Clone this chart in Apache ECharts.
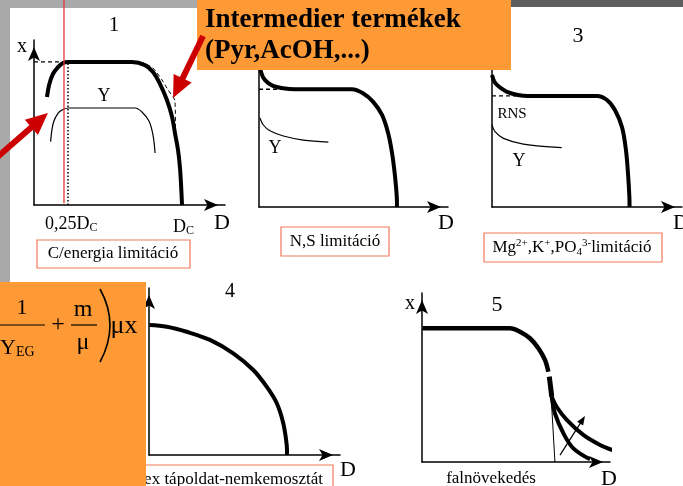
<!DOCTYPE html>
<html><head><meta charset="utf-8">
<script src="https://cdn.jsdelivr.net/npm/echarts@6/dist/echarts.min.js"></script>
<style>html,body{margin:0;padding:0;background:#fff}#c{width:683px;height:486px}</style>
</head><body><div id="c"></div>
<script>
// All values: [D, x] in percent of each panel's axis length
// Panel 1 – C/energia limitáció
const p1Biomass = [[6.8,65.5],[7.9,72.7],[9.9,79.4],[12.6,83.6],[15.2,86.1],[17.8,86.7],[30,86.7],[40,86.7],[51.3,86.7],[58.1,84.8],[62.3,80.6],[66.0,73.3],[69.6,63.6],[72.3,53.3],[73.8,43.6],[75.4,33.3],[76.4,23.0],[77.0,12.1],[77.5,0]];
const p1Yield = [[8.7,38.4],[10.1,49.7],[12.7,55.8],[15.2,57.9],[17.8,58.8],[30,58.8],[45,58.8],[52.9,58.8],[56.5,56.4],[60.2,50.9],[62.3,42.4],[63.4,31.5]];
const p1XmaxRef = [[0,86.8],[17.8,86.8]];
const p1Intermed = [[51.8,86.9],[57.1,86.1],[62.3,83.0],[67.0,75.8],[70.2,69.7],[72.8,65.5],[73.8,63.0],[74.1,45.5]];
const p1Dotted = [[17.8,0],[17.8,86.7]];
const p1RedLine = [[15.7,1],[15.7,124.2]];
// arrows: [fromD, fromX, tipD, tipX]
const p1Arrows = [[-20,28.2,7.3,55.8],[88.5,102.4,72.8,64.8]];
// Panel 2 – N,S limitáció
const p2Biomass = [[0.3,88.0],[1.1,80.7],[3.2,76.0],[7.4,72.5],[12.7,71.1],[19.0,70.5],[30,70.5],[40,70.5],[49.2,70.5],[55.0,68.1],[60.3,63.1],[65.1,55.1],[68.3,44.3],[70.4,32.3],[72.0,18.0],[72.9,6],[73.0,0]];
const p2Ref = [[0,70.5],[19,70.5]];
const p2Yield = [[0.5,53.3],[2.3,49.1],[5.8,45.7],[12.9,42.5],[23.4,40.1],[36.7,38.9]];
// Panel 3 – Mg, K, PO4 limitáció
const p3Biomass = [[0,79.0],[1.1,75.4],[2.6,73.1],[5.3,70.7],[7.9,69.0],[13.7,67.1],[18.9,66.5],[30,66.5],[45,66.5],[55.3,66.5],[60.5,64.1],[64.7,58.1],[68.4,47.9],[70.5,34.1],[71.7,18.0],[72.3,6],[72.4,0]];
const p3Ref = [[0,66.5],[18.9,66.5]];
const p3Yield = [[0,49.1],[1.6,45.1],[6.0,41.1],[16.5,37.7],[36.7,35.5]];
// Panel 4 – komplex tápoldat
const p4Biomass = [[0.2,77.8],[9.3,76.8],[19.7,73.8],[31.9,68.9],[44.1,60.9],[54.6,50.9],[61.6,40.9],[66.9,31.0],[70.3,19.0],[72.1,6],[72.3,0]];
// Panel 5 – falnövekedés
const p5Main = [[0.2,79.1],[25,79.1],[46.8,79.1],[52.1,77.1],[57.4,73.2],[61.9,67.3],[65.4,60.4],[67.2,53.4]];
const p5Mid = [[67.7,50.5],[68.4,44.4],[69.0,38.6]];
const p5Low = [[69.0,38.6],[70.7,28.8],[75.2,17.0],[80.5,8.1],[89.4,1.6]];
const p5High = [[69.0,38.6],[71.6,32.7],[77.0,24.9],[85.8,16.0],[94.7,10.1],[103.6,6.1]];
const p5Thin = [[68.5,42.6],[70.7,0]];
const p5Arrow = [[73.4,4.1,86.7,27.2]];

const SERIF = 'Liberation Serif';
const grids = [
  {left:34, top:40, width:191, height:165},
  {left:259, top:40, width:189, height:167},
  {left:492, top:40, width:190, height:167},
  {left:149, top:288, width:191, height:167},
  {left:422, top:293, width:188, height:169}
];
function ax(i){
  return {gridIndex:i, type:'value', min:0, max:100,
    axisLine:{show:true, onZero:false, symbol:['none','arrow'], symbolSize:[9,14], symbolOffset:[0,-7], lineStyle:{color:'#000', width:1.5}},
    axisTick:{show:false}, axisLabel:{show:false}, splitLine:{show:false}};
}
function ln(g, data, width, opts){
  opts = opts || {};
  return {type:'line', xAxisIndex:g, yAxisIndex:g, data:data, symbol:'none', showSymbol:false,
    smooth: opts.smooth === undefined ? 0.35 : opts.smooth, clip:false, silent:true, z: opts.z || 5,
    lineStyle:{width:width, color: opts.color || '#000', type: opts.type || 'solid', cap:'butt'}};
}
function arrows(g, list, width, headL, headW, color, z){
  return {type:'custom', coordinateSystem:'cartesian2d', xAxisIndex:g, yAxisIndex:g, clip:false, silent:true, z:z,
    data:list, encode:{x:[0,2], y:[1,3]},
    renderItem:function(params, api){
      const a = api.coord([api.value(0), api.value(1)]);
      const b = api.coord([api.value(2), api.value(3)]);
      const dx = b[0]-a[0], dy = b[1]-a[1], len = Math.sqrt(dx*dx+dy*dy);
      const ux = dx/len, uy = dy/len, nx = -uy, ny = ux;
      const bx = b[0]-ux*headL, by = b[1]-uy*headL;
      return {type:'group', children:[
        {type:'line', shape:{x1:a[0], y1:a[1], x2:bx+ux*2, y2:by+uy*2}, style:{stroke:color, lineWidth:width}},
        {type:'polygon', shape:{points:[[b[0],b[1]],[bx+nx*headW, by+ny*headW],[bx-nx*headW, by-ny*headW]]}, style:{fill:color}}
      ]};
    }};
}
function T(text, x, y, size, o){
  o = o || {};
  return {type:'text', x:x, y:y, z:o.z || 20,
    style:{text:text, fill:'#000', fontSize:size, fontFamily:SERIF, fontWeight:o.bold ? 'bold':'normal',
      align:o.align || 'center', verticalAlign:'middle', lineHeight:o.lh, rich:o.rich}};
}
function box(x, y, w, h){
  return {type:'rect', z:15, shape:{x:x, y:y, width:w, height:h}, style:{fill:'#fff', stroke:'#f2785a', lineWidth:1.2}};
}
const subRich = (fs) => ({s:{fontSize:fs, fontFamily:SERIF, lineHeight:10, verticalAlign:'bottom', fill:'#000'}});

const graphic = [
  {type:'rect', z:-10, shape:{x:0,y:0,width:200,height:8}, style:{fill:'#a9a9a9'}},
  {type:'rect', z:-10, shape:{x:0,y:0,width:10,height:283}, style:{fill:'#a9a9a9'}},
  {type:'rect', z:-10, shape:{x:505,y:0,width:178,height:7}, style:{fill:'#5f5f5f'}},
  // panel 1 texts
  T('1',114,25.3,21), T('x',22,46.6,20), T('D',222,223,22), T('Y',104,96,18),
  T('0,25D{s|C}',45,224,18,{align:'left', lh:20, rich:subRich(12)}),
  T('D{s|C}',173,227,18,{align:'left', lh:20, rich:subRich(12)}),
  box(37,240,153,28), T('C/energia limitáció',113,254,17),
  // panel 2
  T('Y',275,148,18), T('D',446,223,22),
  box(281,227,108,29), T('N,S limitáció',335,242,17),
  // panel 3
  T('3',578,36,22), T('RNS',512,114,15), T('Y',519,161,18), T('D',681,223,22),
  box(484,233,178,29),
  T('Mg{p|2+},K{p|+},PO{s|4}{p|3-}limitáció',572,248,17,{lh:20, rich:{
     p:{fontSize:11, fontFamily:SERIF, lineHeight:10, verticalAlign:'top', fill:'#000'},
     s:{fontSize:11, fontFamily:SERIF, lineHeight:10, verticalAlign:'bottom', fill:'#000'}}}),
  // panel 4
  T('4',230,291.6,20), T('D',348,470,22),
  box(120,465,213,30), T('Komplex tápoldat-nemkemosztát',323,479.6,17,{align:'right'}),
  // panel 5
  T('x',410,303.6,20), T('5',497,305,22), T('falnövekedés',491,479,17), T('D',609,479,22),
  // orange boxes
  {type:'rect', z:50, shape:{x:197,y:0,width:314,height:70}, style:{fill:'#fe9a36'}},
  T('Intermedier termékek',205,19.7,27,{align:'left', bold:true, z:51}),
  T('(Pyr,AcOH,...)',205,51.5,27,{align:'left', bold:true, z:51}),
  {type:'rect', z:50, shape:{x:0,y:282,width:146,height:204}, style:{fill:'#fe9a36'}},
  T('1',22,308,22,{z:51}),
  {type:'line', z:51, shape:{x1:0,y1:325,x2:45,y2:325}, style:{stroke:'#000', lineWidth:1.2}},
  T('Y{s|EG}',0,348,22,{align:'left', z:51, lh:22, rich:{s:{fontSize:14, fontFamily:SERIF, lineHeight:10, verticalAlign:'bottom', fill:'#000'}}}),
  T('+',58,325,24,{z:51}),
  T('m',83,310,24,{z:51}),
  {type:'line', z:51, shape:{x1:71,y1:325,x2:97,y2:325}, style:{stroke:'#000', lineWidth:1.2}},
  T('μ',83,343,24,{z:51}),
  {type:'bezierCurve', z:51, shape:{x1:100,y1:289,cpx1:120,cpy1:325,x2:100,y2:362}, style:{stroke:'#000', lineWidth:1.6, fill:null}},
  T('μx',124,326,26,{z:51})
];

const option = {
  animation:false,
  backgroundColor:'#ffffff',
  grid: grids.map(g => Object.assign({outerBoundsMode:'none', containLabel:false}, g)),
  xAxis: grids.map((g,i) => ax(i)),
  yAxis: grids.map((g,i) => ax(i)),
  graphic: graphic,
  series: [
    ln(0, p1Biomass, 4),
    ln(0, p1Yield, 1.2),
    ln(0, p1XmaxRef, 1.2, {type:[4,3], smooth:false}),
    ln(0, p1Intermed, 1, {type:[4,3], smooth:0.2}),
    ln(0, p1Dotted, 1.5, {type:[1.5,2], smooth:false}),
    ln(0, p1RedLine, 1.3, {color:'#e3353b', smooth:false, z:8}),
    arrows(0, p1Arrows, 6, 22, 10, '#cc0000', 60),
    ln(1, p2Biomass, 4),
    ln(1, p2Ref, 1.5, {type:[4,3], smooth:false}),
    ln(1, p2Yield, 1.2),
    ln(2, p3Biomass, 4),
    ln(2, p3Ref, 1.2, {type:[4,3], smooth:false}),
    ln(2, p3Yield, 1.2),
    ln(3, p4Biomass, 4),
    ln(4, p5Main, 4.5),
    ln(4, p5Mid, 5, {smooth:0.2}),
    ln(4, p5Low, 4),
    ln(4, p5High, 4),
    ln(4, p5Thin, 1, {smooth:false}),
    arrows(4, p5Arrow, 1.2, 9, 3.5, '#000', 6)
  ]
};
echarts.init(document.getElementById('c'), null, {renderer:'canvas'}).setOption(option);
</script>
</body></html>
